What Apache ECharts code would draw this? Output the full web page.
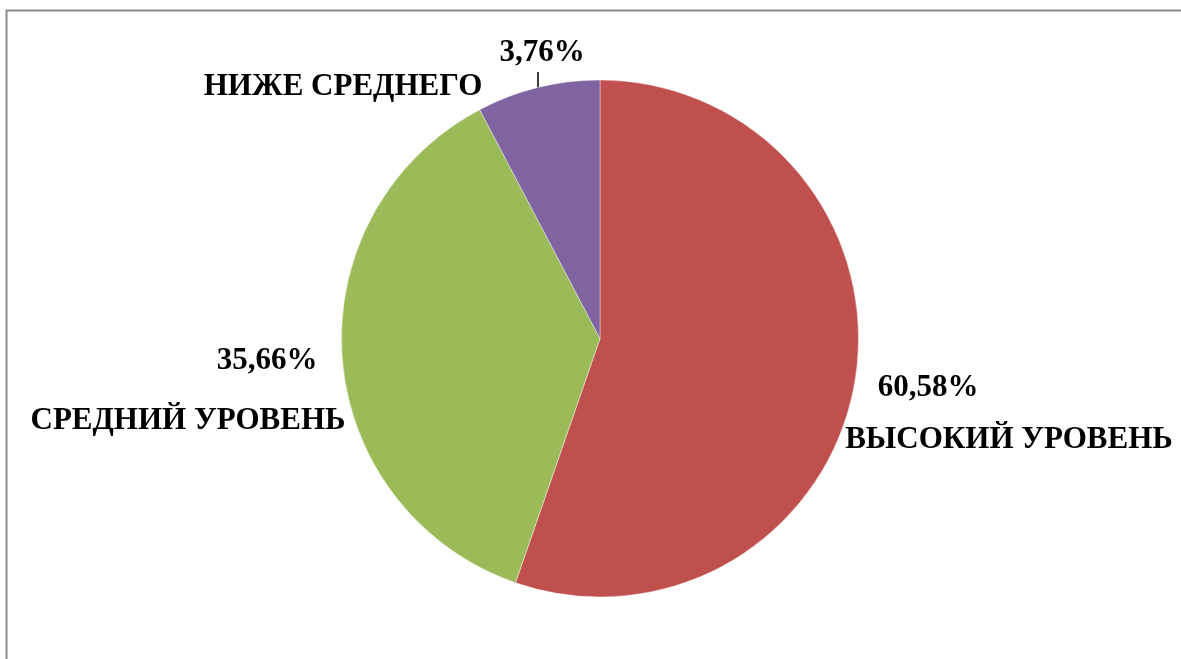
<!DOCTYPE html>
<html>
<head>
<meta charset="utf-8">
<script src="https://cdn.jsdelivr.net/npm/echarts@6/dist/echarts.min.js"></script>
<style>
html,body{margin:0;padding:0;background:#fff;}
#c{width:1181px;height:659px;}
</style>
</head>
<body>
<div id="c"></div>
<script>
// Data (drawn slice sizes; labels as printed)
const categories = ['ВЫСОКИЙ УРОВЕНЬ', 'СРЕДНИЙ УРОВЕНЬ', 'НИЖЕ СРЕДНЕГО'];
const values = [55.3, 37.0, 7.7];
const percentLabels = ['60,58%', '35,66%', '3,76%'];
const colors = ['#C0504D', '#9BBB59', '#8064A2'];

const chart = echarts.init(document.getElementById('c'), null, {renderer: 'canvas'});
const font = {fontFamily: '"Liberation Serif", "Times New Roman", serif', fontWeight: 'bold', fontSize: 31, fill: '#000'};
function txt(text, x, y, align) {
  return {type: 'text', x: x, y: y, style: Object.assign({text: text, align: align, verticalAlign: 'middle'}, font)};
}
const option = {
  backgroundColor: '#fff',
  animation: false,
  series: [{
    type: 'pie',
    center: [600, 338.5],
    radius: 258.5,
    startAngle: 90,
    clockwise: true,
    label: {show: false},
    labelLine: {show: false},
    itemStyle: {borderColor: '#ffffff', borderWidth: 0.4},
    data: categories.map((c, i) => ({name: c, value: values[i], itemStyle: {color: colors[i]}}))
  }],
  graphic: [
    {type: 'polyline', shape: {points: [[6.5, 659], [6.5, 10.5], [1181, 10.5]]}, style: {stroke: '#8a8a8a', lineWidth: 2, fill: null}},
    txt(percentLabels[0], 928, 388, 'center'),
    txt(categories[0], 1009, 440, 'center'),
    txt(percentLabels[1], 267, 361, 'center'),
    txt(categories[1], 188, 421, 'center'),
    txt(percentLabels[2], 542, 53, 'center'),
    txt(categories[2], 343, 87, 'center'),
    {type: 'line', shape: {x1: 538, y1: 72, x2: 538, y2: 88}, style: {stroke: '#000', lineWidth: 1.5}}
  ]
};
chart.setOption(option);
</script>
</body>
</html>
